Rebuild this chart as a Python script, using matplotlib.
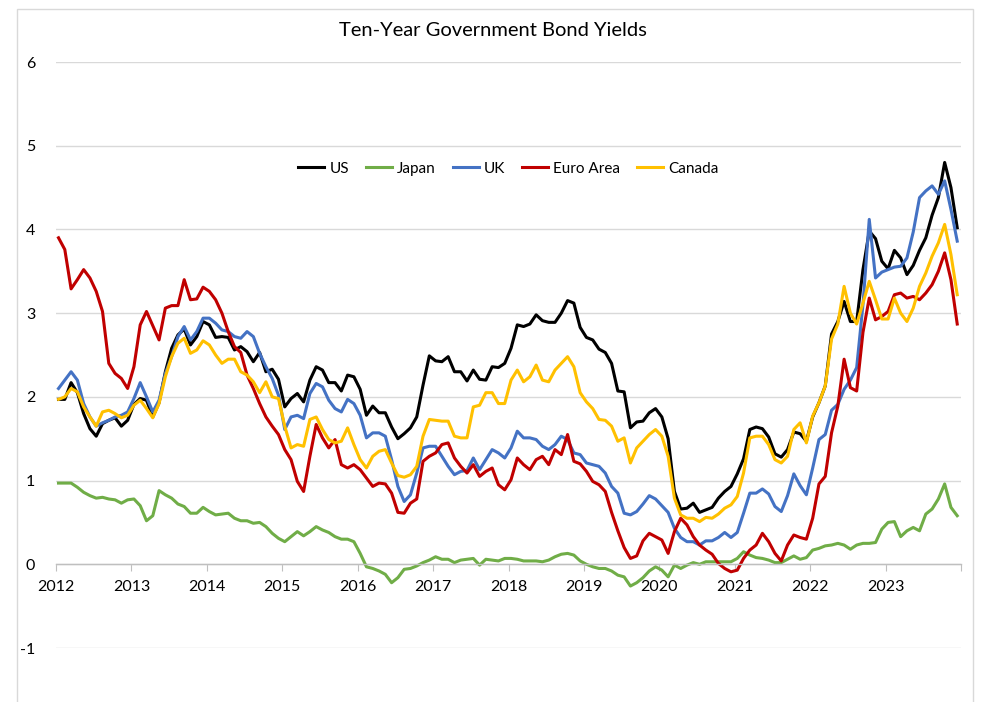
import numpy as np
import matplotlib
matplotlib.use("Agg")
import matplotlib.pyplot as plt
from matplotlib.patches import Rectangle

# Monthly 10-year government bond yields (%), Jan 2012 - Dec 2023
years = list(range(2012, 2024))

us = [1.97, 1.97, 2.17, 2.05, 1.80, 1.62, 1.53, 1.68, 1.72, 1.75, 1.65, 1.72,
      1.91, 1.98, 1.96, 1.76, 1.93, 2.30, 2.58, 2.74, 2.81, 2.62, 2.72, 2.90,
      2.86, 2.71, 2.72, 2.71, 2.56, 2.60, 2.54, 2.42, 2.53, 2.30, 2.33, 2.21,
      1.88, 1.98, 2.04, 1.94, 2.20, 2.36, 2.32, 2.17, 2.17, 2.07, 2.26, 2.24,
      2.09, 1.78, 1.89, 1.81, 1.81, 1.64, 1.50, 1.56, 1.63, 1.76, 2.14, 2.49,
      2.43, 2.42, 2.48, 2.30, 2.30, 2.19, 2.32, 2.21, 2.20, 2.36, 2.35, 2.40,
      2.58, 2.86, 2.84, 2.87, 2.98, 2.91, 2.89, 2.89, 3.00, 3.15, 3.12, 2.83,
      2.71, 2.68, 2.57, 2.53, 2.40, 2.07, 2.06, 1.63, 1.70, 1.71, 1.81, 1.86,
      1.76, 1.50, 0.87, 0.66, 0.67, 0.73, 0.62, 0.65, 0.68, 0.79, 0.87, 0.93,
      1.08, 1.26, 1.61, 1.64, 1.62, 1.52, 1.32, 1.28, 1.37, 1.58, 1.56, 1.47,
      1.76, 1.93, 2.13, 2.75, 2.90, 3.14, 2.90, 2.90, 3.52, 3.98, 3.89, 3.62,
      3.53, 3.75, 3.66, 3.46, 3.57, 3.75, 3.90, 4.17, 4.38, 4.80, 4.50, 4.02]

japan = [0.97, 0.97, 0.97, 0.92, 0.86, 0.82, 0.79, 0.80, 0.78, 0.77, 0.73, 0.77,
         0.78, 0.70, 0.52, 0.58, 0.88, 0.83, 0.79, 0.72, 0.69, 0.61, 0.61, 0.68,
         0.63, 0.59, 0.60, 0.61, 0.55, 0.52, 0.52, 0.49, 0.50, 0.45, 0.37, 0.31,
         0.27, 0.33, 0.39, 0.34, 0.39, 0.45, 0.41, 0.38, 0.33, 0.30, 0.30, 0.27,
         0.13, -0.03, -0.05, -0.08, -0.12, -0.22, -0.16, -0.06, -0.05, -0.02, 0.02, 0.05,
         0.09, 0.06, 0.06, 0.02, 0.05, 0.06, 0.07, -0.01, 0.06, 0.05, 0.04, 0.07,
         0.07, 0.06, 0.04, 0.04, 0.04, 0.03, 0.05, 0.09, 0.12, 0.13, 0.11, 0.04,
         0.00, -0.03, -0.05, -0.05, -0.08, -0.13, -0.15, -0.26, -0.22, -0.16, -0.08, -0.03,
         -0.07, -0.15, -0.01, -0.05, -0.01, 0.02, 0.00, 0.03, 0.03, 0.03, 0.03, 0.03,
         0.07, 0.15, 0.11, 0.08, 0.07, 0.05, 0.02, 0.02, 0.06, 0.10, 0.06, 0.08,
         0.17, 0.19, 0.22, 0.23, 0.25, 0.23, 0.18, 0.23, 0.25, 0.25, 0.26, 0.42,
         0.50, 0.51, 0.33, 0.40, 0.44, 0.40, 0.60, 0.66, 0.78, 0.96, 0.68, 0.58]

uk = [2.10, 2.20, 2.30, 2.20, 1.92, 1.76, 1.65, 1.69, 1.72, 1.76, 1.78, 1.82,
      1.98, 2.17, 2.00, 1.82, 1.96, 2.28, 2.48, 2.72, 2.84, 2.68, 2.78, 2.94,
      2.94, 2.88, 2.80, 2.78, 2.72, 2.70, 2.78, 2.72, 2.52, 2.36, 2.22, 2.02,
      1.61, 1.76, 1.78, 1.74, 2.04, 2.16, 2.12, 1.96, 1.86, 1.82, 1.97, 1.92,
      1.78, 1.51, 1.57, 1.57, 1.53, 1.25, 0.93, 0.75, 0.83, 1.09, 1.39, 1.41,
      1.41, 1.29, 1.17, 1.07, 1.11, 1.12, 1.27, 1.13, 1.25, 1.37, 1.33, 1.27,
      1.39, 1.59, 1.51, 1.51, 1.49, 1.41, 1.37, 1.43, 1.53, 1.49, 1.33, 1.31,
      1.21, 1.19, 1.17, 1.09, 0.93, 0.85, 0.61, 0.59, 0.63, 0.72, 0.82, 0.78,
      0.70, 0.62, 0.43, 0.32, 0.27, 0.27, 0.23, 0.28, 0.28, 0.32, 0.38, 0.32,
      0.38, 0.61, 0.85, 0.85, 0.90, 0.84, 0.69, 0.63, 0.82, 1.08, 0.94, 0.83,
      1.15, 1.49, 1.55, 1.84, 1.91, 2.09, 2.20, 2.35, 3.10, 4.12, 3.42, 3.49,
      3.52, 3.55, 3.56, 3.66, 3.97, 4.38, 4.46, 4.52, 4.42, 4.58, 4.24, 3.86]

euro_area = [3.90, 3.76, 3.29, 3.40, 3.52, 3.42, 3.26, 3.02, 2.40, 2.28, 2.22, 2.10,
             2.36, 2.86, 3.02, 2.85, 2.68, 3.06, 3.09, 3.09, 3.40, 3.16, 3.17, 3.31,
             3.26, 3.16, 3.00, 2.78, 2.60, 2.53, 2.26, 2.10, 1.92, 1.76, 1.65, 1.55,
             1.37, 1.25, 0.99, 0.87, 1.29, 1.67, 1.51, 1.39, 1.49, 1.19, 1.15, 1.19,
             1.13, 1.03, 0.93, 0.97, 0.96, 0.85, 0.62, 0.61, 0.73, 0.78, 1.23, 1.29,
             1.33, 1.43, 1.45, 1.27, 1.17, 1.09, 1.19, 1.05, 1.11, 1.15, 0.95, 0.89,
             1.01, 1.27, 1.19, 1.13, 1.25, 1.29, 1.19, 1.37, 1.31, 1.55, 1.23, 1.20,
             1.11, 0.99, 0.95, 0.87, 0.62, 0.40, 0.20, 0.07, 0.10, 0.28, 0.37, 0.33,
             0.29, 0.13, 0.39, 0.55, 0.47, 0.33, 0.23, 0.17, 0.12, 0.01, -0.05, -0.09,
             -0.07, 0.07, 0.17, 0.23, 0.37, 0.27, 0.13, 0.04, 0.23, 0.35, 0.32, 0.30,
             0.55, 0.96, 1.05, 1.57, 1.89, 2.45, 2.11, 2.07, 2.77, 3.18, 2.92, 2.96,
             3.02, 3.22, 3.24, 3.18, 3.20, 3.16, 3.24, 3.34, 3.50, 3.72, 3.40, 2.87]

canada = [1.97, 2.00, 2.10, 2.06, 1.88, 1.76, 1.65, 1.82, 1.84, 1.80, 1.75, 1.78,
          1.90, 1.96, 1.86, 1.75, 1.92, 2.24, 2.48, 2.64, 2.70, 2.52, 2.56, 2.67,
          2.62, 2.50, 2.40, 2.45, 2.45, 2.30, 2.26, 2.18, 2.05, 2.18, 2.00, 1.98,
          1.65, 1.39, 1.43, 1.41, 1.73, 1.76, 1.61, 1.49, 1.45, 1.47, 1.63, 1.43,
          1.25, 1.15, 1.29, 1.35, 1.37, 1.21, 1.06, 1.04, 1.07, 1.17, 1.53, 1.73,
          1.72, 1.71, 1.71, 1.53, 1.51, 1.51, 1.88, 1.90, 2.05, 2.05, 1.92, 1.92,
          2.20, 2.32, 2.18, 2.24, 2.38, 2.20, 2.18, 2.32, 2.40, 2.48, 2.36, 2.05,
          1.94, 1.86, 1.73, 1.72, 1.65, 1.47, 1.51, 1.21, 1.39, 1.47, 1.55, 1.61,
          1.53, 1.29, 0.79, 0.59, 0.55, 0.55, 0.51, 0.56, 0.55, 0.60, 0.67, 0.71,
          0.81, 1.09, 1.51, 1.53, 1.53, 1.43, 1.25, 1.21, 1.29, 1.61, 1.69, 1.45,
          1.77, 1.93, 2.13, 2.69, 2.87, 3.32, 3.00, 2.87, 3.12, 3.38, 3.16, 2.93,
          2.93, 3.18, 3.00, 2.90, 3.06, 3.32, 3.48, 3.68, 3.84, 4.06, 3.70, 3.22]

series = [("US", us, "#000000"),
          ("Japan", japan, "#70AD47"),
          ("UK", uk, "#4472C4"),
          ("Euro Area", euro_area, "#C00000"),
          ("Canada", canada, "#FFC000")]

months = np.arange(len(us))
x = years[0] + (months + 0.4) / 12.0

plt.rcParams["font.family"] = ["Lato", "DejaVu Sans"]
plt.rcParams["axes.unicode_minus"] = False

fig = plt.figure(figsize=(9.81, 7.02), dpi=100)
ax = fig.add_axes([56 / 981, 1 - 648 / 702, 905 / 981, 586 / 702])

for name, vals, color in series:
    ax.plot(x, vals, color=color, lw=2.2, label=name, solid_joinstyle="round")

ax.set_xlim(years[0], years[-1] + 1)
ax.set_ylim(-1, 6)
ax.set_yticks(range(-1, 7))
ax.yaxis.grid(True, color="#d9d9d9", lw=1.0)
ax.set_axisbelow(True)

for side in ("top", "right", "left"):
    ax.spines[side].set_visible(False)
ax.spines["bottom"].set_position(("data", 0))
ax.spines["bottom"].set_color("#bfbfbf")
ax.spines["bottom"].set_linewidth(1.0)

ax.set_xticks(years + [years[-1] + 1])
ax.set_xticklabels([str(y) for y in years] + [""])
ax.tick_params(axis="x", direction="out", length=5, color="#bfbfbf",
               labelsize=11.5, labelcolor="#000000", pad=6)
ax.tick_params(axis="y", length=0, labelsize=11.5, labelcolor="#000000", pad=15)

leg = ax.legend(loc="center", bbox_to_anchor=(0.5, 0.818), ncol=5, frameon=False,
                fontsize=11, handlelength=1.7, handletextpad=0.35,
                columnspacing=1.1)

fig.text(493 / 981, 1 - 31 / 702, "Ten-Year Government Bond Yields",
         ha="center", va="center", fontsize=14.5)

fig.patches.append(Rectangle((17 / 981, -0.01), (973 - 17) / 981, 1.01 - 9 / 702,
                             transform=fig.transFigure, fill=False,
                             edgecolor="#d9d9d9", lw=1.0))

fig.savefig("out.png", dpi=100)
